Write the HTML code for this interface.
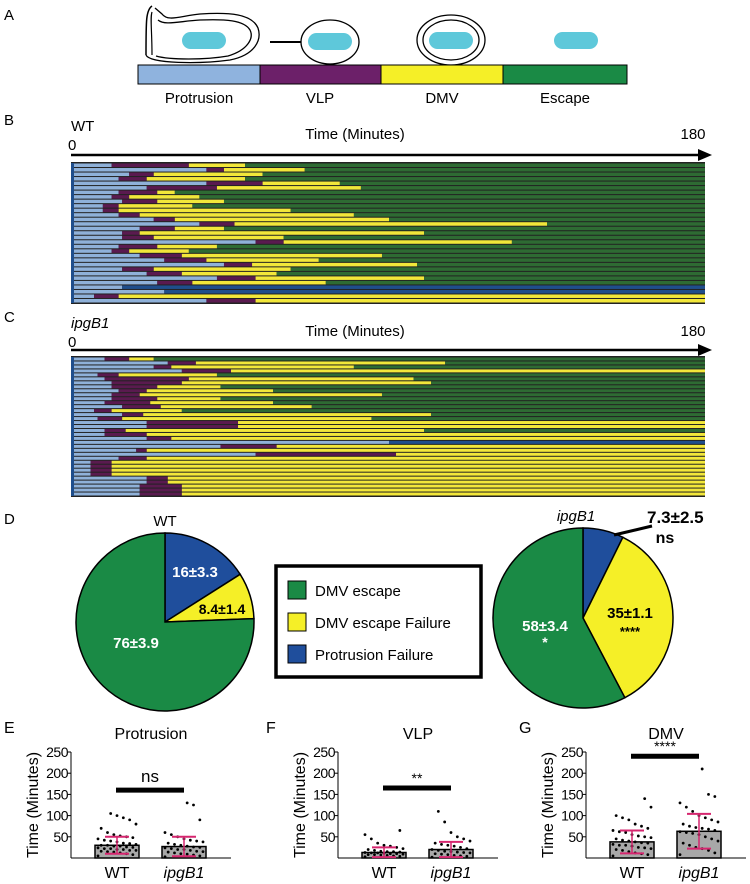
<!DOCTYPE html>
<html><head><meta charset="utf-8">
<style>
body{margin:0;background:#fff;font-family:"Liberation Sans",sans-serif;}
svg{display:block}
text{font-family:"Liberation Sans",sans-serif;}
</style></head>
<body>
<svg id="fig" width="750" height="884" viewBox="0 0 750 884">
<!-- Panel A -->
<g>
<text x="4" y="20" font-size="15">A</text>
<path d="M152,6 C146,10 146,20 146,55" fill="none" stroke="#000" stroke-width="1.5"/>
<path d="M152,12 C150,18 152,30 152,55" fill="none" stroke="#000" stroke-width="1.2"/>
<path d="M146,55 C150,64 200,64 230,60 C255,55 262,40 258,28 C252,14 230,12 200,14 C180,16 168,22 162,14 L155,8" fill="none" stroke="#000" stroke-width="1.3"/>
<path d="M156,56 C170,60 205,60 228,56 C248,50 254,38 250,30 C244,20 225,19 200,20 C180,21 165,26 158,20" fill="none" stroke="#000" stroke-width="1.3"/>
<rect x="182" y="32" width="44" height="17" rx="8.5" fill="#5ec8da"/>
<line x1="270" y1="42" x2="301" y2="42" stroke="#000" stroke-width="2"/>
<ellipse cx="330" cy="42" rx="29" ry="22" fill="none" stroke="#000" stroke-width="1.3"/>
<rect x="308" y="33" width="44" height="17" rx="8.5" fill="#5ec8da"/>
<ellipse cx="451" cy="40" rx="34" ry="25" fill="none" stroke="#000" stroke-width="1.3"/>
<ellipse cx="451" cy="40" rx="28" ry="20" fill="none" stroke="#000" stroke-width="1.3"/>
<rect x="429" y="32" width="44" height="17" rx="8.5" fill="#5ec8da"/>
<rect x="554" y="32" width="44" height="17" rx="8.5" fill="#5ec8da"/>
<rect x="138" y="65" width="122" height="19" fill="#8fb3de" stroke="#000"/>
<rect x="260" y="65" width="121" height="19" fill="#6c2069" stroke="#000"/>
<rect x="381" y="65" width="122" height="19" fill="#f5ef27" stroke="#000"/>
<rect x="503" y="65" width="124" height="19" fill="#1a8a45" stroke="#000"/>
<text x="199" y="103" font-size="15" text-anchor="middle">Protrusion</text>
<text x="320" y="103" font-size="15" text-anchor="middle">VLP</text>
<text x="442" y="103" font-size="15" text-anchor="middle">DMV</text>
<text x="565" y="103" font-size="15" text-anchor="middle">Escape</text>
</g>
<!-- Panel B / C headers -->
<text x="4" y="125" font-size="15">B</text>
<text x="71" y="131" font-size="15">WT</text>
<text x="68" y="150" font-size="15">0</text>
<text x="355" y="139" font-size="15" text-anchor="middle">Time (Minutes)</text>
<text x="693" y="139" font-size="15" text-anchor="middle">180</text>
<line x1="71" y1="155" x2="700" y2="155" stroke="#000" stroke-width="2.5"/>
<polygon points="698,149 712,155 698,161" fill="#000"/>
<g id="bRowsG"></g>

<text x="4" y="322" font-size="15">C</text>
<text x="71" y="328" font-size="15" font-style="italic">ipgB1</text>
<text x="68" y="347" font-size="15">0</text>
<text x="355" y="336" font-size="15" text-anchor="middle">Time (Minutes)</text>
<text x="693" y="336" font-size="15" text-anchor="middle">180</text>
<line x1="71" y1="350" x2="700" y2="350" stroke="#000" stroke-width="2.5"/>
<polygon points="698,344 712,350 698,356" fill="#000"/>
<g id="cRowsG"></g>

<!-- Panel D -->
<text x="4" y="524" font-size="15">D</text>
<text x="165" y="526" font-size="15" text-anchor="middle">WT</text>
<g id="pieWT"></g>
<text x="576" y="521" font-size="15" font-style="italic" text-anchor="middle">ipgB1</text>
<g id="pieIP"></g>
<line x1="614" y1="535" x2="652" y2="526" stroke="#000" stroke-width="3"/>
<text x="647" y="523" font-size="17" font-weight="bold">7.3±2.5</text>
<text x="665" y="543" font-size="16" font-weight="bold" text-anchor="middle">ns</text>
<text x="195" y="577" font-size="15" font-weight="bold" fill="#fff" text-anchor="middle">16±3.3</text>
<text x="222" y="614" font-size="14" font-weight="bold" text-anchor="middle">8.4±1.4</text>
<text x="136" y="648" font-size="15" font-weight="bold" fill="#fff" text-anchor="middle">76±3.9</text>
<text x="545" y="631" font-size="15" font-weight="bold" fill="#fff" text-anchor="middle">58±3.4</text>
<text x="545" y="647" font-size="14" font-weight="bold" fill="#fff" text-anchor="middle">*</text>
<text x="630" y="618" font-size="15" font-weight="bold" text-anchor="middle">35±1.1</text>
<text x="630" y="636" font-size="13" font-weight="bold" text-anchor="middle">****</text>
<g>
<rect x="276" y="566" width="205" height="111" fill="#fff" stroke="#000" stroke-width="3.5"/>
<rect x="288" y="581" width="18" height="18" fill="#1a8a45" stroke="#000"/>
<text x="315" y="596" font-size="15">DMV escape</text>
<rect x="288" y="613" width="18" height="18" fill="#f5ef27" stroke="#000"/>
<text x="315" y="628" font-size="15">DMV escape Failure</text>
<rect x="288" y="645" width="18" height="18" fill="#1f4e9c" stroke="#000"/>
<text x="315" y="660" font-size="15">Protrusion Failure</text>
</g>
<g id="bars"></g>
</svg>
<script>
// ---------- Timeline data: [protrusion end, VLP end, DMV end, outcome(0 escape,1 protrusion fail,2 DMV fail)]
const bRows=[[11,33,49,0],[38,43,66,0],[16,23,54,0],[13,21,49,0],[38,54,76,0],[21,41,82,0],[13,24,29,0],[11,16,36,0],[14,24,43,0],[8.5,13,34,0],[8.5,13,62,0],[13,19,80,0],[23,29,90,0],[36,46,135,0],[19,29,43,0],[14,19,100,0],[14,23,60,0],[52,60,125,0],[13,24,41,0],[11,16,33,0],[19,31,88,0],[26,38,70,0],[43,51,98,0],[14,23,62,0],[21,31,58,0],[41,52,100,0],[24,34,72,0],[14,14,14,1],[26,26,26,1],[6,13,180,2],[38,52,180,2]];
const cRows=[[9,16,23,0],[27,35,106,0],[23,28,80,0],[31,45,180,2],[7,13,41,0],[9,33,97,0],[11,31,102,0],[11,24,42,0],[13,21,57,0],[11,19,88,0],[11,24,42,0],[9,22,57,0],[14,25,68,0],[6,11,31,0],[14,20,102,0],[7,14,85,0],[21,47,180,2],[21,47,180,2],[9,15,100,0],[9,21,180,2],[21,28,180,2],[90,90,90,1],[42,58,180,2],[18,21,180,2],[52,92,180,2],[13,21,180,2],[5,11,180,2],[5,11,180,2],[5,11,180,2],[5,11,180,2],[21,27,180,2],[21,27,180,2],[19,31,180,2],[19,31,180,2],[19,31,180,2]];
const NS='http://www.w3.org/2000/svg';
const tx=m=>73+m*632/180;
function mk(tag,attrs,parent){const e=document.createElementNS(NS,tag);for(const k in attrs)e.setAttribute(k,attrs[k]);parent.appendChild(e);return e;}
function timeline(rows,gid,y0,y1){
  const g=document.getElementById(gid);const h=(y1-y0)/rows.length;
  mk('rect',{x:71,y:y0-1,width:634,height:y1-y0+2,fill:'#222'},g);
  rows.forEach((r,i)=>{const y=y0+i*h;
    const segs=[[0,r[0],'#8fb1d9'],[r[0],r[1],'#5a1a4f'],[r[1],r[2],'#f2e73a']];
    const endCol=r[3]==0?'#2e6b33':r[3]==1?'#1f4e8c':'#f2e73a';
    segs.push([r[3]==1?r[0]:r[2],180,endCol]);
    segs.forEach(s=>{if(s[1]>s[0]){const el=mk('rect',{x:tx(s[0]),y:y+0.5,width:tx(s[1])-tx(s[0]),height:h-1,fill:s[2]},g);
      
      }});
  });
  mk('rect',{x:71,y:y0,width:3,height:y1-y0,fill:'#1f4e8c'},g);
}
timeline(bRows,'bRowsG',163,303);
timeline(cRows,'cRowsG',357,496);

// ---------- Pie data (percent): escape, DMV failure, protrusion failure
const pieLabels=['DMV escape','DMV escape Failure','Protrusion Failure'];
const wtPie=[75.6,8.4,16];
const ipPie=[57.7,35,7.3];
const pieCols=['#1a8a45','#f5ef27','#1f4e9c'];
function pie(vals,gid,cx,cy,r){
  const g=document.getElementById(gid);const tot=vals.reduce((a,b)=>a+b,0);
  let a=0;[2,1,0].forEach(k=>{const a2=a+vals[k]/tot*2*Math.PI;
    const p=(t)=>[cx+r*Math.sin(t),cy-r*Math.cos(t)];const [x1,y1]=p(a),[x2,y2]=p(a2);
    const el=mk('path',{d:`M${cx},${cy}L${x1},${y1}A${r},${r} 0 ${a2-a>Math.PI?1:0} 1 ${x2},${y2}Z`,fill:pieCols[k],stroke:'#000','stroke-width':1.5},g);
    
    
    a=a2;});
}
pie(wtPie,'pieWT',165,622,89);
pie(ipPie,'pieIP',583,618,90);

// ---------- Bar/scatter data
const groups=['WT','ipgB1'];
const yTicks=[50,100,150,200,250];
const means=[[30,27],[13,20],[38,63]];
const sds=[[20,23],[12,18],[27,41]];
const ptsE=[[5,8,10,12,14,15,16,18,18,20,20,22,22,24,25,26,28,28,30,30,32,34,35,38,40,42,45,48,50,52,55,60,70,80,90,95,100,105],[3,5,7,9,10,12,14,15,16,18,20,20,22,24,25,26,28,30,32,35,38,40,42,45,50,55,60,90,125,130]];
const ptsF=[[3,4,5,6,7,8,8,9,10,10,11,12,12,13,14,15,15,16,18,20,22,25,28,30,35,45,55,65],[2,4,5,6,8,9,10,12,13,14,15,16,18,20,22,25,28,30,32,35,40,45,50,60,85,110]];
const ptsG=[[5,8,10,12,15,18,20,22,24,25,28,30,30,32,35,36,38,40,42,45,48,50,52,55,60,62,65,70,75,80,90,95,100,120,140],[8,12,18,22,25,30,35,40,45,50,55,58,60,62,65,68,70,72,75,80,85,90,95,100,110,120,130,145,150,210]];
const sigText=['ns','**','****'];
const sigVal=[160,165,240];
const panels=[{l:'E',t:'Protrusion',ax:71,lx:4,pts:ptsE},{l:'F',t:'VLP',ax:338,lx:266,pts:ptsF},{l:'G',t:'DMV',ax:586,lx:519,pts:ptsG}];
const bars=document.getElementById('bars');
const yv=v=>858-v*106/250;
panels.forEach((p,pi)=>{
  const g=mk('g',{},bars);
  
  
  const lab=mk('text',{x:p.lx,y:733,'font-size':16},g);lab.textContent=p.l;
  
  
  const tt=mk('text',{x:p.ax+80,y:739,'font-size':16,'text-anchor':'middle'},g);tt.textContent=p.t;
  
  
  const yt=mk('text',{transform:`translate(${p.ax-33},805) rotate(-90)`,'font-size':16,'text-anchor':'middle'},g);yt.textContent='Time (Minutes)';
  
  
  mk('line',{x1:p.ax,y1:yv(250),x2:p.ax,y2:858,stroke:'#000','stroke-width':1},g);
  mk('line',{x1:p.ax,y1:858,x2:p.ax+160,y2:858,stroke:'#000','stroke-width':1},g);
  yTicks.forEach(v=>{mk('line',{x1:p.ax-3,y1:yv(v),x2:p.ax,y2:yv(v),stroke:'#000'},g);
    const t=mk('text',{x:p.ax-3,y:yv(v)+5,'font-size':14,'text-anchor':'end','letter-spacing':'-0.5'},g);t.textContent=v;
    
    });
  groups.forEach((gn,gi)=>{
    const cx=p.ax+46+gi*67;
    const b=mk('rect',{x:cx-22,y:yv(means[pi][gi]),width:44,height:858-yv(means[pi][gi]),fill:'#a8a8a8',stroke:'#000','stroke-width':1.5},g);
    
    
    p.pts[gi].forEach((v,i)=>{const jx=(((i*37)%13)-6)/6*19;
      const d=mk('circle',{cx:cx+jx,cy:yv(v),r:1.4,fill:'#000'},g);
      
      });
    const m=means[pi][gi],s=sds[pi][gi];
    const lo=Math.max(m-s,2);
    mk('line',{x1:cx,y1:yv(m+s),x2:cx,y2:yv(lo),stroke:'#d6266f','stroke-width':1.5},g);
    mk('line',{x1:cx-12,y1:yv(m+s),x2:cx+12,y2:yv(m+s),stroke:'#d6266f','stroke-width':2},g);
    mk('line',{x1:cx-12,y1:yv(lo),x2:cx+12,y2:yv(lo),stroke:'#d6266f','stroke-width':2},g);
    const xl=mk('text',{x:cx,y:878,'font-size':16,'text-anchor':'middle','font-style':gi?'italic':'normal'},g);xl.textContent=gn;
    
    
  });
  mk('line',{x1:p.ax+45,y1:yv(sigVal[pi]),x2:p.ax+113,y2:yv(sigVal[pi]),stroke:'#000','stroke-width':5},g);
  const st=mk('text',{x:p.ax+79,y:yv(sigVal[pi])-(pi==0?8:5),'font-size':pi==0?17:14,'text-anchor':'middle'},g);st.textContent=sigText[pi];
  
  
});
</script>
</body></html>
